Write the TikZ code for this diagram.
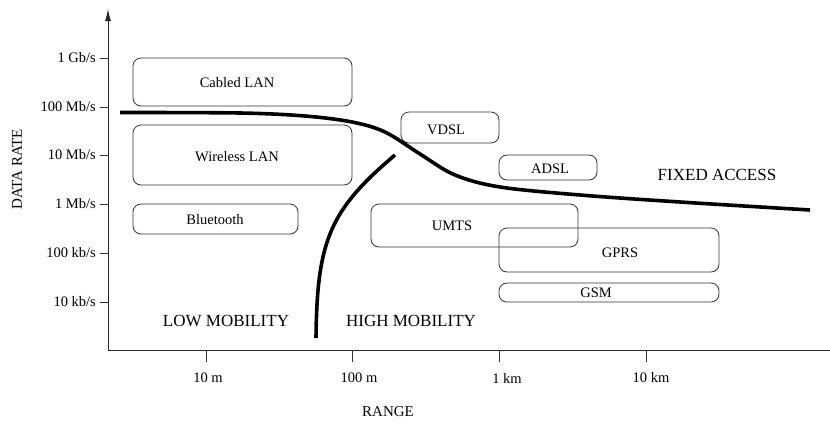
\documentclass[tikz,border=0pt]{standalone}
\usepackage{fontspec}
\setmainfont{Liberation Serif}
\usetikzlibrary{arrows.meta}
\begin{document}
\begin{tikzpicture}[x=1pt,y=-1pt,
  techbox/.style={draw=black!80,line width=0.8pt,rounded corners=8pt,inner sep=0pt},
  lbl/.style={font=\fontsize{14.5}{17}\selectfont,inner sep=0pt},
  region/.style={font=\fontsize{17}{20}\selectfont,inner sep=0pt},
  axis/.style={line width=0.9pt,black!85},
  tick/.style={line width=0.8pt,black!80},
  boundary/.style={line width=3.6pt,line cap=butt}]
\useasboundingbox (0,0) rectangle (830,424);
\clip (0,0) rectangle (830,424);

% axes
\coordinate (origin) at (108,350);
\coordinate (ytop) at (108,9);
\coordinate (xend) at (842,350);
\draw[axis,-{Latex[length=12pt,width=6pt]}] (origin) -- (ytop);
\draw[axis,-{Latex[length=12pt,width=6pt]}] (origin) -- (xend);

% data-rate ticks
\foreach \yy/\txt/\nm in {58/{1 Gb/s}/ya,107/{100 Mb/s}/yb,155/{10 Mb/s}/yc,204/{1 Mb/s}/yd,253/{100 kb/s}/ye,302/{10 kb/s}/yf}{
  \draw[tick] (100,\yy) -- (108,\yy);
  \node[lbl,anchor=east] (\nm) at (96,\yy) {\txt};
}
% range ticks
\foreach \xx/\lx/\txt/\nm in {206/208/{10 m}/xa,352/359/{100 m}/xb,499/507/{1 km}/xc,646/651/{10 km}/xd}{
  \draw[tick] (\xx,350) -- (\xx,362);
  \node[lbl] (\nm) at (\lx,378) {\txt};
}

% axis titles
\node[lbl,font=\fontsize{15}{18}\selectfont,rotate=90] (ytitle) at (17,169) {DATA RATE};
\node[lbl,font=\fontsize{15}{18}\selectfont] (xtitle) at (388,412) {RANGE};

% technology boxes
\node[techbox,minimum width=219pt,minimum height=48pt] (cabled) at (242.5,82) {};
\node[techbox,minimum width=219pt,minimum height=60pt] (wlan) at (242.5,155) {};
\node[techbox,minimum width=165pt,minimum height=30pt] (bt) at (215.5,219) {};
\node[techbox,minimum width=98pt,minimum height=31pt] (vdsl) at (450,127.5) {};
\node[techbox,minimum width=98pt,minimum height=25pt] (adsl) at (548,167.5) {};
\node[techbox,minimum width=207pt,minimum height=43pt] (umts) at (474.5,225.5) {};
\node[techbox,minimum width=220pt,minimum height=44pt] (gprs) at (609,250) {};
\node[techbox,minimum width=220pt,minimum height=19pt] (gsm) at (609,292.5) {};

\node[lbl] (tcabled) at (237,83) {Cabled LAN};
\node[lbl] (twlan) at (237,157) {Wireless LAN};
\node[lbl] (tbt) at (215,220) {Bluetooth};
\node[lbl] (tvdsl) at (446,130) {VDSL};
\node[lbl] (tadsl) at (550,169) {ADSL};
\node[lbl] (tumts) at (452,226) {UMTS};
\node[lbl] (tgprs) at (620,253) {GPRS};
\node[lbl] (tgsm) at (596,293) {GSM};

% region labels
\node[region] (fixed) at (717,175) {FIXED ACCESS};
\node[region] (low) at (226,321) {LOW MOBILITY};
\node[region] (high) at (411,321) {HIGH MOBILITY};

% fixed-access boundary
\draw[boundary] plot[smooth,tension=0.55] coordinates
  {(120,112.5) (240,113) (305,116) (352,122) (385,132) (420,154) (455,175) (500,187) (580,195) (680,202) (810,210)};
% mobility boundary
\coordinate (mobA) at (316,338);
\coordinate (mobB) at (395,155);
\draw[boundary] (mobA) .. controls (317,240) and (330,210) .. (mobB);
\end{tikzpicture}
\end{document}
